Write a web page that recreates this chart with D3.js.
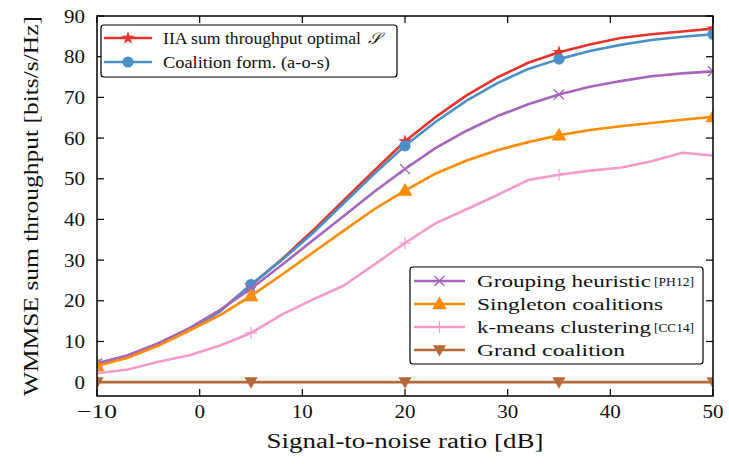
<!DOCTYPE html>
<html><head><meta charset="utf-8">
<script src="https://cdn.jsdelivr.net/npm/d3@7"></script>
<style>body{margin:0;background:#fff}svg{display:block}text{font-family:"Liberation Serif","DejaVu Serif",serif;fill:#111}</style>
</head><body><svg id="c" width="729" height="464"></svg>
<script>
const snr = [-10,-7,-4,-1,2,5,8,11,14,17,20,23,26,29,32,35,38,41,44,47,50];
const iaOptimal = [4.5,6.5,9.5,13.1,17.6,23.8,30.2,37.2,44.6,52.0,59.2,65.2,70.5,74.9,78.5,81.1,83.0,84.6,85.5,86.2,86.9];
const coalitionForm = [4.3,6.3,9.3,12.9,17.4,24.0,30.0,36.6,43.9,51.2,58.1,64.0,69.2,73.5,77.0,79.4,81.4,82.9,84.1,84.9,85.5];
const grouping = [4.6,6.6,9.6,13.3,17.8,23.0,28.8,34.8,40.8,46.8,52.4,57.6,61.8,65.4,68.3,70.7,72.6,74.0,75.2,75.9,76.4];
const singleton = [4.0,6.0,9.0,12.7,16.5,21.2,26.4,31.8,37.2,42.5,47.1,51.3,54.5,57.0,59.0,60.7,62.0,62.9,63.7,64.5,65.2];
const kmeans = [2.2,3.1,5.0,6.6,9.0,12.1,16.6,20.3,23.7,28.9,34.2,39.1,42.5,46.0,49.7,51.0,52.0,52.7,54.3,56.4,55.7];
const grand = [0,0,0,0,0,0,0,0,0,0,0,0,0,0,0,0,0,0,0,0,0];
const xTicks = [-10,0,10,20,30,40,50];
const yTicks = [0,10,20,30,40,50,60,70,80,90];
const seriesNames = ["IIA sum throughput optimal","Coalition form. (a-o-s)","Grouping heuristic","Singleton coalitions","k-means clustering","Grand coalition"];
const seriesCites = ["","","[PH12]","","[CC14]",""];
const colors = ["#e8332b","#4a90c8","#a566bb","#ff8c00","#f79acb","#b5693a"];
const markers = ["star","circle","x","triUp","plus","triDown"];
const values = [iaOptimal,coalitionForm,grouping,singleton,kmeans,grand];
const markEvery = 5;

const svg = d3.select("#c");
const L=97,R=713,T=16,B=396;
const x = d3.scaleLinear().domain([-10,50]).range([L,R]);
const y = d3.scaleLinear().domain([-3.4,90]).range([B,T]);

svg.append("defs").append("clipPath").attr("id","clip").append("rect")
  .attr("x",L).attr("y",T).attr("width",R-L).attr("height",B-T);

function drawMarker(g, type, cx, cy, color){
  if(type==="star"){
    g.append("path").attr("d",d3.symbol(d3.symbolStar,55)()).attr("transform",`translate(${cx},${cy})`).attr("fill",color);
  } else if(type==="circle"){
    g.append("circle").attr("cx",cx).attr("cy",cy).attr("r",5.6).attr("fill",color);
  } else if(type==="triUp"){
    g.append("path").attr("d",d3.symbol(d3.symbolTriangle,95)()).attr("transform",`translate(${cx},${cy+1})`).attr("fill",color);
  } else if(type==="triDown"){
    g.append("path").attr("d",d3.symbol(d3.symbolTriangle,75)()).attr("transform",`translate(${cx},${cy-1}) rotate(180)`).attr("fill",color);
  } else if(type==="x"){
    const s=5;
    g.append("path").attr("d",`M${cx-s},${cy-s}L${cx+s},${cy+s}M${cx-s},${cy+s}L${cx+s},${cy-s}`).attr("stroke",color).attr("stroke-width",1.4).attr("fill","none");
  } else if(type==="plus"){
    const s=6;
    g.append("path").attr("d",`M${cx-s},${cy}L${cx+s},${cy}M${cx},${cy-s}L${cx},${cy+s}`).attr("stroke",color).attr("stroke-width",1.2).attr("fill","none");
  }
}

const tk = 7;
const axG = svg.append("g");
xTicks.forEach(t=>{
  axG.append("line").attr("x1",x(t)).attr("x2",x(t)).attr("y1",B).attr("y2",B-tk).attr("stroke","#000").attr("stroke-width",1.2);
  axG.append("line").attr("x1",x(t)).attr("x2",x(t)).attr("y1",T).attr("y2",T+tk).attr("stroke","#000").attr("stroke-width",1.2);
  axG.append("text").attr("x",x(t)).attr("y",B+22).attr("text-anchor","middle").attr("font-size",19)
    .attr("textLength",t<0?40:(String(t).length*10.5)).attr("lengthAdjust","spacingAndGlyphs")
    .text(t<0?"\u2212"+Math.abs(t):t);
});
yTicks.forEach(t=>{
  axG.append("line").attr("x1",L).attr("x2",L+tk).attr("y1",y(t)).attr("y2",y(t)).attr("stroke","#000").attr("stroke-width",1.2);
  axG.append("line").attr("x1",R).attr("x2",R-tk).attr("y1",y(t)).attr("y2",y(t)).attr("stroke","#000").attr("stroke-width",1.2);
  axG.append("text").attr("x",L-12).attr("y",y(t)+6.5).attr("text-anchor","end").attr("font-size",19)
    .attr("textLength",String(t).length*10.5).attr("lengthAdjust","spacingAndGlyphs").text(t);
});

const plotG = svg.append("g").attr("clip-path","url(#clip)");
const line = d3.line().x((d,i)=>x(snr[i])).y(d=>y(d));
values.forEach((vals,k)=>{
  const g = plotG.append("g");
  g.append("path").datum(vals).attr("d",line).attr("fill","none").attr("stroke",colors[k]).attr("stroke-width",2.6).attr("stroke-linejoin","round");
  vals.forEach((v,i)=>{ if(i%markEvery===0) drawMarker(g,markers[k],x(snr[i]),y(v),colors[k]); });
});

svg.append("rect").attr("x",L).attr("y",T).attr("width",R-L).attr("height",B-T).attr("fill","none").attr("stroke","#000").attr("stroke-width",1.5);

svg.append("text").attr("x",(L+R)/2).attr("y",448).attr("text-anchor","middle").attr("font-size",20)
  .attr("textLength",277).attr("lengthAdjust","spacingAndGlyphs").text("Signal-to-noise ratio [dB]");
svg.append("text").attr("transform",`translate(38,${(T+B)/2}) rotate(-90)`).attr("text-anchor","middle").attr("font-size",20)
  .attr("textLength",380).attr("lengthAdjust","spacingAndGlyphs").text("WMMSE sum throughput [bits/s/Hz]");

function legend(idxs, bx, by, bw, bh, rows, lx1, lx2, tx, widths){
  const g = svg.append("g");
  g.append("rect").attr("x",bx).attr("y",by).attr("width",bw).attr("height",bh).attr("rx",3)
    .attr("fill","#fff").attr("stroke","#000").attr("stroke-width",1.2);
  idxs.forEach((k,j)=>{
    const ry = rows[j];
    g.append("line").attr("x1",lx1).attr("x2",lx2).attr("y1",ry).attr("y2",ry).attr("stroke",colors[k]).attr("stroke-width",2.6);
    drawMarker(g,markers[k],(lx1+lx2)/2,ry,colors[k]);
    g.append("text").attr("x",tx).attr("y",ry+5.5).attr("font-size",16.5)
      .attr("textLength",widths[j]).attr("lengthAdjust","spacingAndGlyphs").text(seriesNames[k]);
    if(k===0){ g.append("text").attr("x",tx+widths[j]+7).attr("y",ry+5.5).attr("font-size",16.5).attr("font-style","italic").text("\u{1D4AE}"); }
    if(seriesCites[k]){ g.append("text").attr("x",tx+widths[j]+3).attr("y",ry+5).attr("font-size",12)
      .attr("textLength",40).attr("lengthAdjust","spacingAndGlyphs").attr("fill","#333").text(seriesCites[k]); }
  });
}
legend([0,1], 101, 25, 296, 52, [38,62], 104, 152, 163, [198,167]);
legend([2,3,4,5], 410, 267, 293, 97, [281,304,327,350], 414, 465, 477, [174,186,174,148]);
</script></body></html>
